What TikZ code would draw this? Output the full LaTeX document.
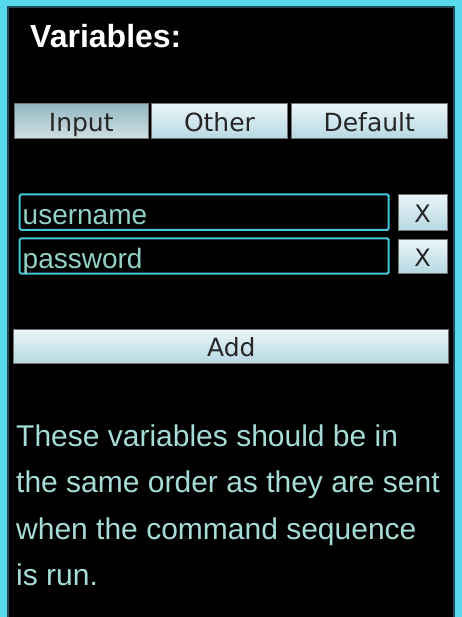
\documentclass[tikz,border=0pt]{standalone}
\usepackage{fontspec}
\setmainfont{Liberation Sans}
\newfontfamily\btnfont{DejaVu Sans}

\definecolor{framecyan}{HTML}{58D8EC}
\definecolor{hinttext}{HTML}{A6DCD6}
\definecolor{fieldline}{HTML}{42C8D8}
\definecolor{fieldtext}{HTML}{92D2C6}
\definecolor{btntop}{HTML}{EAF5F8}
\definecolor{btnbot}{HTML}{B6D8E2}
\definecolor{seltop}{HTML}{94B8C0}
\definecolor{selbot}{HTML}{D0E0E3}

\tikzset{
  button/.style={draw=black!55, line width=1pt, top color=btntop, bottom color=btnbot,
    anchor=north west, inner sep=0pt, text height=20pt, text depth=0pt,
    font=\btnfont\fontsize{25}{25}\selectfont, text=black!85},
  selected/.style={top color=seltop, bottom color=selbot},
  field/.style={draw=fieldline, line width=2pt, rounded corners=1.5pt, fill=black, anchor=north west,
    inner xsep=3pt, inner ysep=0pt, text width=363pt, align=left,
    text height=25pt, text depth=1pt, text=fieldtext,
    font=\fontsize{28}{28}\selectfont}
}

\begin{document}
\begin{tikzpicture}[x=1pt,y=-1pt]
\useasboundingbox (0,0) rectangle (462,617);
\fill[framecyan] (0,0) rectangle (462,617);
\filldraw[fill=black, draw=framecyan!35!black, line width=2pt] (7.5,7.5) rectangle (453.5,620);

\node[anchor=base west, text=white, inner sep=0pt, font=\bfseries\fontsize{32}{32}\selectfont] (title) at (30,48) {Variables:};

\begin{scope}[yshift=0pt]
\foreach \name/\lbl/\x/\w in {tabother/Other/151/136, tabdefault/Default/291/155.5}
\node[button, minimum width=\w pt, minimum height=35pt] (\name) at (\x,103.5) {\lbl};
\node[button, selected, minimum width=133.5pt, minimum height=35pt] (tabinput) at (14,103.5) {Input};
\end{scope}

\begin{scope}[yshift=0pt]
\node[field, minimum height=35.7pt] (username) at (18.7,193.3) {username};
\node[field, minimum height=35.4pt] (password) at (18.7,237.3) {password};
\node[button, minimum width=49pt, minimum height=36pt, font=\btnfont\fontsize{24}{24}\selectfont] (deluser) at (397.7,194) {X};
\node[button, minimum width=49pt, minimum height=34.3pt, font=\btnfont\fontsize{24}{24}\selectfont] (delpass) at (397.7,239) {X};
\end{scope}

\node[button, minimum width=435pt, minimum height=34.3pt] (add) at (13.3,329) {Add};

\node[anchor=north west, inner sep=0pt, align=left, text=hinttext, font=\fontsize{30}{46.3}\selectfont] (hint) at (16,424.5)
{These variables should be in\\the same order as they are sent\\when the command sequence\\is run.};
\end{tikzpicture}
\end{document}
